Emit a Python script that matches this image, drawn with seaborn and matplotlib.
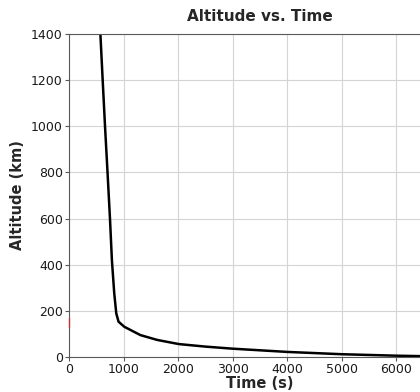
import numpy as np
import pandas as pd
import matplotlib
matplotlib.use("Agg")
import matplotlib.pyplot as plt
import seaborn as sns

# Descent profile
time_s = [500, 575, 617, 660, 706, 752, 786, 829, 866, 908, 1013, 1308,
          1615, 2013, 2500, 3000, 4000, 5000, 6000, 6500]
altitude_km = [1750, 1400, 1200, 1000, 800, 594, 420, 276, 189, 153, 131, 95,
               74, 56, 45, 36, 22, 12, 5.6, 3.5]

# small red trace sitting on the y axis
marker_time = [0, 0]
marker_alt = [131, 168]

x_ticks = [0, 1000, 2000, 3000, 4000, 5000, 6000]
y_ticks = [0, 200, 400, 600, 800, 1000, 1200, 1400]

df = pd.DataFrame({"Time (s)": time_s, "Altitude (km)": altitude_km})

sns.set_style("whitegrid", {
    "axes.edgecolor": "0.35",
    "grid.color": "0.83",
    "xtick.bottom": True,
    "ytick.left": True,
})
plt.rcParams["font.family"] = ["DejaVu Sans"]

fig = plt.figure(figsize=(4.2, 3.92), dpi=100)
ax = fig.add_axes([0.1643, 0.0893, 0.9095, 0.824])

sns.lineplot(data=df, x="Time (s)", y="Altitude (km)", color="black",
             linewidth=1.8, sort=False, ax=ax)
ax.plot(marker_time, marker_alt, color="#d62728", linewidth=1.0,
        alpha=0.8, zorder=3, clip_on=False)

ax.set_xlim(0, 7000)
ax.set_ylim(0, 1400)
ax.set_xticks(x_ticks)
ax.set_yticks(y_ticks)
ax.tick_params(labelsize=9, length=3, width=0.8, color="0.35", pad=1.5,
               labelcolor="0.1")
ax.set_xlabel("Time (s)", fontsize=10.5, fontweight="bold", labelpad=0)
ax.set_ylabel("Altitude (km)", fontsize=10.5, fontweight="bold", labelpad=4)
ax.set_title("Altitude vs. Time", fontsize=11, fontweight="bold", pad=9)

fig.savefig("out.png", dpi=100)
